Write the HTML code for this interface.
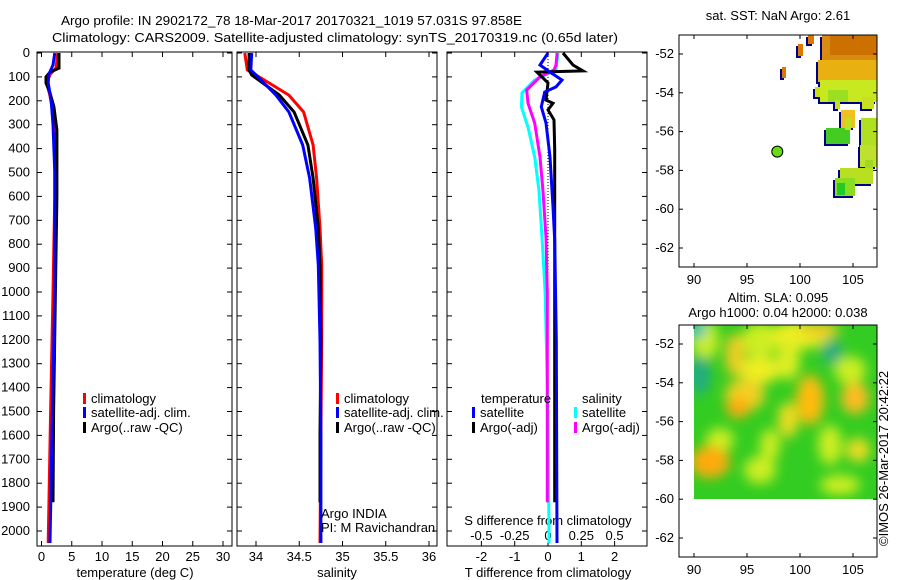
<!DOCTYPE html>
<html><head><meta charset="utf-8"><style>
body{margin:0;background:#fff;}
svg{display:block;font-family:"Liberation Sans",sans-serif;}
text{font-size:13px;fill:#000;}
</style></head><body>
<svg id="chart" width="900" height="580" viewBox="0 0 900 580" xmlns="http://www.w3.org/2000/svg">
<defs>
<filter id="blur" x="-50%" y="-50%" width="200%" height="200%"><feGaussianBlur stdDeviation="6"/></filter>
<clipPath id="slaclip"><rect x="694" y="325" width="183" height="174"/></clipPath>
</defs>
<text x="61" y="25" font-size="14" textLength="461" lengthAdjust="spacingAndGlyphs">Argo profile: IN 2902172_78 18-Mar-2017 20170321_1019 57.031S 97.858E</text>
<text x="52" y="42" font-size="14" textLength="566" lengthAdjust="spacingAndGlyphs">Climatology: CARS2009. Satellite-adjusted climatology: synTS_20170319.nc (0.65d later)</text>
<g id="g"></g>
</svg>
<script>
// ---- data (depth in m) ----
const clDepth=[0,63,90,125,180,250,400,600,1000,1500,2050];
const clTemp=[2.7,2.4,1.4,0.9,1.4,1.9,2.2,2.2,1.9,1.5,1.1];
const satDepth=[0,50,90,125,200,300,500,1000,1500,2050];
const satTemp=[2.2,1.9,1.2,1.1,1.6,1.9,2.2,2.2,1.8,1.4];
const argoDepth=[0,63,80,100,125,167,225,322,600,1000,1500,1880];
const argoTemp=[2.9,2.9,1.4,0.75,0.75,1.4,2.05,2.55,2.55,2.3,2.0,1.9];
const sDepth=[0,71,105,176,247,385,523,732,887,1200,1600,2050];
const clSal=[33.87,33.9,34.06,34.38,34.55,34.66,34.7,34.74,34.76,34.76,34.75,34.74];
const satSalDepth=[0,71,92,176,247,385,523,732,887,1200,1600,2050];
const satSal=[33.95,33.94,34.0,34.23,34.38,34.54,34.62,34.69,34.72,34.74,34.75,34.75];
const argoSalDepth=[0,71,92,176,247,385,523,732,887,1200,1600,1880];
const argoSal=[33.92,33.92,33.95,34.27,34.44,34.6,34.66,34.72,34.74,34.75,34.74,34.74];
// difference panel
const dTargoDepth=[0,50,75,80,92,125,197,210,238,280,405,1000,1500,1880];
const dTargo=[0.45,0.75,1.05,-0.33,-0.24,0,-0.06,0.15,0,0.18,0.2,0.2,0.2,0.2];
const dTsatDepth=[0,50,80,113,142,163,225,293,435,644,782,1200,2050];
const dTsat=[0,-0.24,0.06,0.42,0.24,-0.1,-0.2,-0.06,0.06,0.15,0.2,0.25,0.27];
const dSargoDepth=[0,50,71,100,155,210,293,435,573,770,1000,1500,1880];
const dSargo=[0.068,0.06,0.045,-0.06,-0.16,-0.15,-0.1,-0.06,-0.038,-0.015,-0.005,-0.005,-0.005];
const dSsatDepth=[0,71,92,113,167,225,310,435,573,770,1000,1500,2050];
const dSsat=[0.075,0.06,-0.022,-0.1,-0.195,-0.2,-0.15,-0.1,-0.068,-0.045,-0.022,0,0.008];
const depthTicks=[0,100,200,300,400,500,600,700,800,900,1000,1100,1200,1300,1400,1500,1600,1700,1800,1900,2000];
const tempTicks=[0,5,10,15,20,25,30];
const salTicks=[34,34.5,35,35.5,36];
const dTTicks=[-2,-1,0,1,2];
const dSTicks=[-0.5,-0.25,0,0.25,0.5];
const lonTicks=[90,95,100,105];
const latTicks=[-52,-54,-56,-58,-60,-62];
const argoLon=97.858, argoLat=-57.031;

const NS='http://www.w3.org/2000/svg';
const G=document.getElementById('g');
function mk(tag,attrs,parent){const e=document.createElementNS(NS,tag);for(const k in attrs)e.setAttribute(k,attrs[k]);(parent||G).appendChild(e);return e;}
function txt(x,y,s,anchor,parent){const t=mk('text',{x:x,y:y,'text-anchor':anchor||'start'},parent);t.textContent=s;return t;}
const BOT=546;
const yD=d=>53+d*0.239;
const xT=t=>41.5+t*6.05;
const xS=s=>256+(s-34)*86.5;
const xDT=t=>548+t*33.3;
const xDS=s=>548+s*133.2;
function line(xs,ds,fx,color,name,w){
  const pts=xs.map((v,i)=>fx(v).toFixed(1)+','+yD(ds[i]).toFixed(1)).join(' ');
  const p=mk('polyline',{points:pts,fill:'none',stroke:color,'stroke-width':w||3,'stroke-linejoin':'miter'});
  
  
}
function panel(x0,x1,name){
  const r=mk('rect',{x:x0,y:52,width:x1-x0,height:BOT-52,fill:'none',stroke:'#000','stroke-width':1});
  
  
}
panel(37,232,'temperature-panel');panel(237,437,'salinity-panel');panel(447,647,'difference-panel');
depthTicks.forEach(d=>{const y=yD(d);
  const t=txt(30,y+4,String(d),'end');
  
  
  [[37,232],[237,437],[447,647]].forEach(([a,b])=>{mk('line',{x1:a,y1:y,x2:a+5,y2:y,stroke:'#000'});mk('line',{x1:b,y1:y,x2:b-5,y2:y,stroke:'#000'});});
});
function xticks(vals,fx,labels,ly,top,bottom){
  vals.forEach((v,i)=>{const x=fx(v);
    if(top)mk('line',{x1:x,y1:52,x2:x,y2:57,stroke:'#000'});
    if(bottom)mk('line',{x1:x,y1:BOT,x2:x,y2:BOT-5,stroke:'#000'});
    if(labels){const t=txt(x,ly,labels[i],'middle');
      
      }
  });
}
xticks(tempTicks,xT,tempTicks.map(String),561,true,true);
xticks(salTicks,xS,salTicks.map(String),561,true,true);
xticks(dTTicks,xDT,dTTicks.map(String),561,true,true);
xticks(dSTicks,xDS,['-0.5','-0.25','0','0.25','0.5'],540,false,false);
[[135,'temperature (deg C)','temperature-axis-title'],[337,'salinity','salinity-axis-title'],[548,'T difference from climatology','t-diff-axis-title']].forEach(([x,s,n])=>{const t=txt(x,577,s,'middle');});
const sdt=txt(548,525,'S difference from climatology','middle');


line(clTemp,clDepth,xT,'#ff0000','temp-climatology-line');
line(argoTemp,argoDepth,xT,'#000000','temp-argo-line');
line(satTemp,satDepth,xT,'#0000ff','temp-satellite-line');
line(clSal,sDepth,xS,'#ff0000','sal-climatology-line');
line(argoSal,argoSalDepth,xS,'#000000','sal-argo-line');
line(satSal,satSalDepth,xS,'#0000ff','sal-satellite-line');
const z=mk('line',{x1:xDT(0),y1:yD(0),x2:xDT(0),y2:yD(1880),stroke:'#000','stroke-dasharray':'1,2'});


line(dSsat,dSsatDepth,xDS,'#00ffff','s-diff-satellite-line');
line(dSargo,dSargoDepth,xDS,'#ff00ff','s-diff-argo-line');
line(dTargo,dTargoDepth,xDT,'#000000','t-diff-argo-line');
line(dTsat,dTsatDepth,xDT,'#0000ff','t-diff-satellite-line');
function leg(x,y,color,s,name){
  const g=mk('g',{});
  
  
  mk('rect',{x:x,y:y-10,width:3,height:11,fill:color},g);
  const t=txt(x+8,y,s,'start',g);t.setAttribute('font-size','12.5');
}
leg(83,403,'#ff0000','climatology','legend-climatology');
leg(83,417,'#0000ff','satellite-adj. clim.','legend-satellite-adj');
leg(83,432,'#000000','Argo(..raw -QC)','legend-argo');
leg(336,403,'#ff0000','climatology','legend-sal-climatology');
leg(336,417,'#0000ff','satellite-adj. clim.','legend-sal-satellite-adj');
leg(336,432,'#000000','Argo(..raw -QC)','legend-sal-argo');
txt(481,403,'temperature');
leg(472,417,'#0000ff','satellite','legend-t-satellite');
leg(472,432,'#000000','Argo(-adj)','legend-t-argo');
txt(582,403,'salinity');
leg(574,417,'#00ffff','satellite','legend-s-satellite');
leg(574,432,'#ff00ff','Argo(-adj)','legend-s-argo');
txt(321,518,'Argo INDIA');
txt(321,532,'PI: M Ravichandran');

// ---- maps ----
const mX=lon=>694+(lon-90)*10.6;
function mapAxes(top,bot,lat0y,name){
  const mY=lat=>lat0y+(-52-lat)*19.4;
  const r=mk('rect',{x:679,y:top,width:198,height:bot-top,fill:'none',stroke:'#000'});
  
  
  lonTicks.forEach(l=>{const x=mX(l);mk('line',{x1:x,y1:top,x2:x,y2:top+4,stroke:'#000'});mk('line',{x1:x,y1:bot,x2:x,y2:bot-4,stroke:'#000'});
    const t=txt(x,bot+17,String(l),'middle');});
  latTicks.forEach(l=>{const y=mY(l);mk('line',{x1:679,y1:y,x2:683,y2:y,stroke:'#000'});mk('line',{x1:877,y1:y,x2:873,y2:y,stroke:'#000'});
    const t=txt(674,y+4,String(l),'end');});
  return mY;
}
const sst=mk('g',{});


const patches=[[822,35,55,30,'#d98a10'],[830,35,47,20,'#cc7000'],[818,60,59,22,'#e8b010'],[820,80,57,22,'#c8e820'],[828,90,20,12,'#9be020'],
[798,44,5,12,'#dd7700'],[808,35,6,9,'#dd7700'],[782,67,4,11,'#dd7700'],[815,87,5,10,'#c8e010'],[835,100,5,9,'#c0e020'],[862,97,12,12,'#c8e020'],
[841,110,14,18,'#f0c020'],[826,128,24,16,'#44cc22'],[845,118,6,12,'#c0e020'],[861,118,16,30,'#b0e020'],[860,145,17,22,'#c0e030'],[865,160,8,20,'#a0d820'],[840,168,33,16,'#b8e020'],[835,178,20,18,'#88dd20'],[837,183,8,12,'#22cc22']];
patches.forEach(p=>{mk('rect',{x:p[0]-2,y:p[1]+2,width:p[2],height:p[3],fill:'#000080'},sst);});
patches.forEach(p=>{mk('rect',{x:p[0],y:p[1],width:p[2],height:p[3],fill:p[4]},sst);});
const mY1=mapAxes(35,267,54,'sst-map-axes');
const dot=mk('circle',{cx:mX(argoLon),cy:mY1(argoLat),r:5.5,fill:'#66dd11',stroke:'#000','stroke-width':1});


txt(778,20,'sat. SST: NaN Argo: 2.61','middle');
const sla=mk('g',{'clip-path':'url(#slaclip)'});


mk('rect',{x:694,y:325,width:183,height:174,fill:'#33cc22'},sla);
const blobs=mk('g',{filter:'url(#blur)'},sla);
const bl=[[705,340,14,20,'#ccee22'],[760,340,18,18,'#ccee22'],[800,335,30,14,'#eeee22'],[788,360,12,20,'#ddee22'],[810,400,14,25,'#ffbb11'],[735,355,10,22,'#eecc22'],[760,370,20,14,'#eeee22'],
[745,395,20,16,'#f0d020'],[738,408,12,10,'#ffaa11'],[788,420,10,18,'#eedd22'],[855,398,14,16,'#ffbb22'],[850,370,16,14,'#ccee22'],[720,440,14,12,'#ccee22'],[710,462,20,16,'#ffaa11'],[760,470,16,14,'#ccee22'],[830,445,12,20,'#ccee22'],[858,450,12,12,'#eedd22'],[840,485,20,10,'#ccee22'],[700,375,10,20,'#22aa88'],[832,352,10,12,'#22aa88'],[698,330,8,8,'#22bbcc'],[770,445,10,16,'#ccee22'],[820,330,20,8,'#eecc22']];
bl.forEach(b=>mk('ellipse',{cx:b[0],cy:b[1],rx:b[2],ry:b[3],fill:b[4]},blobs));
mapAxes(325,557,344,'sla-map-axes');
txt(778,302,'Altim. SLA: 0.095','middle');
txt(778,317,'Argo h1000: 0.04 h2000: 0.038','middle');
const c=mk('text',{x:0,y:0,transform:'translate(888,546) rotate(-90)'});
c.textContent='©IMOS 26-Mar-2017 20:42:22';


</script>
</body></html>
